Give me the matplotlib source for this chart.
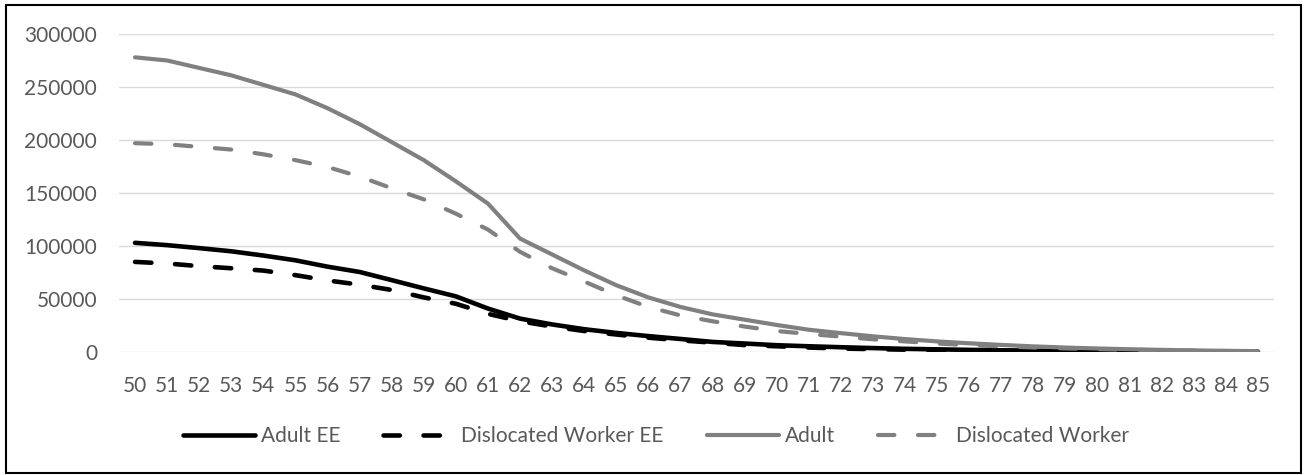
import matplotlib
matplotlib.use("Agg")
import matplotlib.pyplot as plt
from matplotlib.patches import Rectangle

# Age of participants
ages = list(range(50, 86))

# Counts per age for each program
adult_ee = [103000, 100800, 98000, 95000, 91000, 86500, 80500, 75500, 67800, 60000,
            52500, 41000, 31500, 26000, 21500, 18000, 15000, 12300, 9500, 8000,
            6400, 5400, 4500, 3700, 3000, 2500, 2000, 1600, 1300, 1000,
            750, 600, 450, 300, 200, 150]
dislocated_ee = [85000, 83500, 81000, 79000, 76800, 72500, 67500, 63500, 58500, 51500,
                 45500, 36000, 29000, 24000, 19800, 16500, 13500, 11000, 8800, 6500,
                 5400, 4200, 3300, 2700, 2200, 1800, 1400, 1100, 900, 700,
                 550, 400, 300, 200, 150, 100]
adult = [278000, 275000, 268000, 261000, 252000, 243000, 230000, 215000, 198000, 181000,
         161000, 140000, 107000, 92000, 77000, 63000, 51500, 42500, 35500, 30500,
         25500, 21000, 17800, 14800, 12200, 10000, 8200, 6700, 5300, 4200,
         3300, 2600, 2000, 1500, 1100, 800]
dislocated = [197000, 196000, 193500, 191000, 186500, 181000, 174500, 165500, 154500, 144000,
              130500, 115500, 94500, 79000, 66500, 53500, 42500, 34500, 29000, 24000,
              19800, 17000, 14500, 12000, 10000, 8000, 6500, 5300, 4300, 3400,
              2700, 2100, 1600, 1200, 900, 600]

series_names = ["Adult EE", "Dislocated Worker EE", "Adult", "Dislocated Worker"]
y_ticks = [0, 50000, 100000, 150000, 200000, 250000, 300000]

plt.rcParams["font.family"] = ["Lato", "DejaVu Sans"]
plt.rcParams["lines.scale_dashes"] = False
TEXT = "#595959"
FS = 15

W, H = 1304, 475
fig = plt.figure(figsize=(W / 100, H / 100), dpi=100)
ax = fig.add_axes([119 / W, 1 - 352 / H, (1274 - 119) / W, (352 - 34) / H])

dash = (0, (11.8, 17.0))
styles = [
    dict(color="#000000", lw=3.3, linestyle="-"),
    dict(color="#000000", lw=3.3, linestyle=dash),
    dict(color="#808080", lw=3.0, linestyle="-"),
    dict(color="#808080", lw=3.0, linestyle=dash),
]
for vals, name, st in zip([adult_ee, dislocated_ee, adult, dislocated], series_names, styles):
    ax.plot(ages, vals, label=name, solid_capstyle="round", dash_capstyle="round",
            solid_joinstyle="round", **st)

ax.set_xlim(ages[0] - 0.5, ages[-1] + 0.5)
ax.set_ylim(0, 300000)
ax.set_yticks(y_ticks)
ax.set_yticklabels([str(v) for v in y_ticks])
ax.set_xticks(ages)
ax.set_xticklabels([str(a) for a in ages])
ax.grid(axis="y", color="#d9d9d9", lw=1.0, zorder=0)
ax.set_axisbelow(True)
for s in ax.spines.values():
    s.set_visible(False)
ax.tick_params(axis="both", length=0, labelsize=FS, labelcolor=TEXT)
ax.tick_params(axis="y", pad=15.8)
ax.tick_params(axis="x", pad=17)

fig.legend(loc="center", bbox_to_anchor=(656 / W, 1 - 436 / H), ncol=4, frameon=False,
           fontsize=FS, labelcolor=TEXT, handlelength=3.46, handletextpad=0.29,
           columnspacing=2.07, borderaxespad=0, borderpad=0)

# Outer chart border
fig.patches.append(Rectangle((6 / W, 1 - 473 / H), (1301 - 6) / W, (473 - 5) / H,
                             transform=fig.transFigure, fill=False,
                             edgecolor="black", lw=1.5))

fig.savefig("out.png", dpi=100)
